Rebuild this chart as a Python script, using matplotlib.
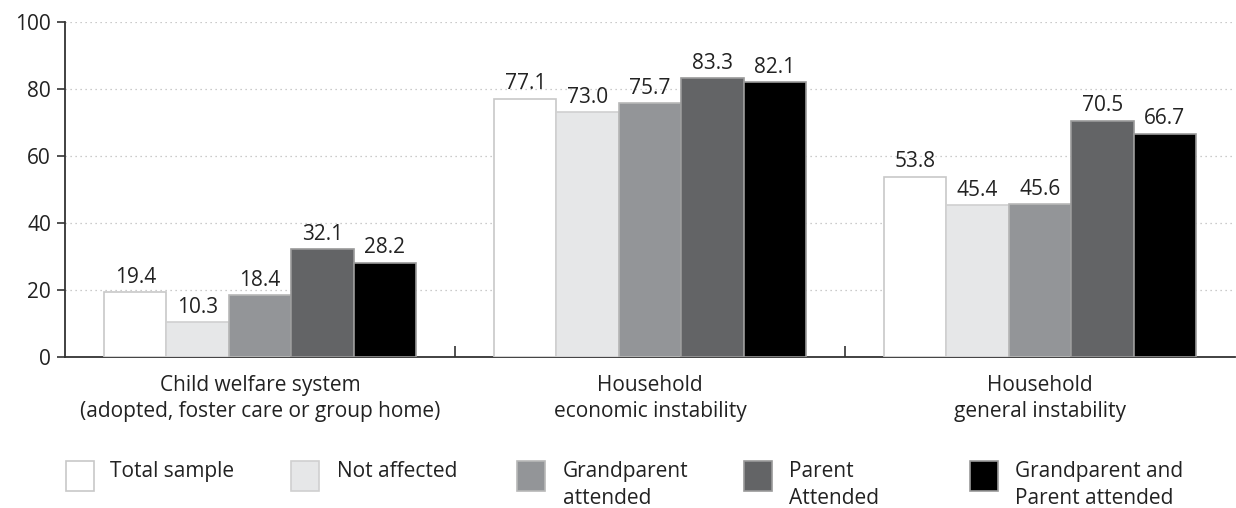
import matplotlib
matplotlib.use("Agg")
import matplotlib.pyplot as plt
from matplotlib.patches import Rectangle
import numpy as np

plt.rcParams['font.family'] = ['Open Sans', 'DejaVu Sans']

categories = ["Child welfare system\n(adopted, foster care or group home)",
              "Household\neconomic instability",
              "Household\ngeneral instability"]
series = ["Total sample", "Not affected", "Grandparent\nattended",
          "Parent\nAttended", "Grandparent and\nParent attended"]
values = [
    [19.4, 77.1, 53.8],
    [10.3, 73.0, 45.4],
    [18.4, 75.7, 45.6],
    [32.1, 83.3, 70.5],
    [28.2, 82.1, 66.7],
]
colors = ["#ffffff", "#e6e7e8", "#939598", "#636466", "#000000"]
edges = ["#c8c8c8", "#d0d0d0", "#b8b8b8", "#9a9a9a", "#9a9a9a"]
yticks = [0, 20, 40, 60, 80, 100]

FS = 15
fig = plt.figure(figsize=(12.36, 5.08), dpi=100)
ax = fig.add_axes([65/1236, 1-357/508, (1235-65)/1236, (357-22)/508])

x = np.arange(len(categories))
bw = 0.16
for i, (vals, c, e) in enumerate(zip(values, colors, edges)):
    pos = x + (i - 2) * bw
    bars = ax.bar(pos, vals, width=bw, color=c, edgecolor=e, linewidth=1.2, zorder=3)
    for b, v in zip(bars, vals):
        ax.text(b.get_x() + b.get_width()/2, v + 1.3, f"{v:.1f}", ha='center', va='bottom',
                fontsize=FS, color='#222222', zorder=4)

ax.set_xlim(-0.5, 2.5)
ax.set_ylim(0, 100)
ax.set_yticks(yticks)
ax.set_yticklabels([str(t) for t in yticks], fontsize=FS, color='#222222')
ax.yaxis.grid(True, linestyle=(0, (1, 3)), color='#bbbbbb', linewidth=0.9, zorder=0)
ax.set_axisbelow(True)

ax.set_xticks([0.5, 1.5])
ax.set_xticklabels([])
ax.tick_params(axis='x', direction='in', length=8, width=1.2, color='#333333')
ax.tick_params(axis='y', direction='out', length=6, width=1.2, color='#333333', pad=4)
for i, c in enumerate(categories):
    ax.text(i, -5.5, c, ha='center', va='top', fontsize=FS, color='#222222',
            transform=ax.transData, linespacing=1.3)

for s in ['top', 'right']:
    ax.spines[s].set_visible(False)
for s in ['left', 'bottom']:
    ax.spines[s].set_color('#333333')
    ax.spines[s].set_linewidth(1.3)

# legend (manual layout)
patch_x = [66, 291, 517, 744, 970]
text_x = [110, 337, 563, 789, 1015]
py_top, py_bot = 461, 491
for px, tx, lab, c, e in zip(patch_x, text_x, series, colors, edges):
    fig.patches.append(Rectangle((px/1236, 1-py_bot/508), 28/1236, (py_bot-py_top)/508,
                                 transform=fig.transFigure, facecolor=c, edgecolor=e, linewidth=1.2))
    fig.text(tx/1236, 1-461/508, lab, ha='left', va='top', fontsize=FS, color='#222222',
             linespacing=1.38)

fig.savefig("out.png", dpi=100)
